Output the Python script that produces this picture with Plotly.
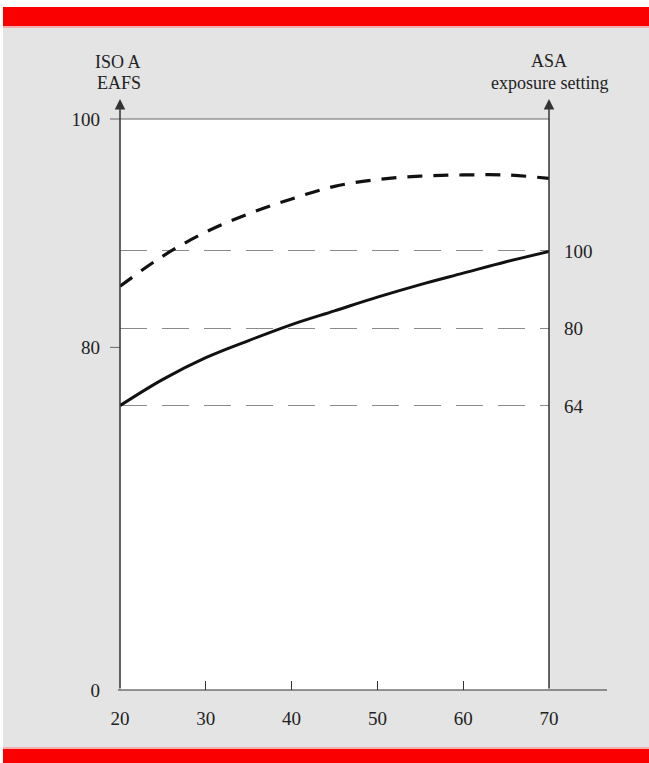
import plotly.graph_objects as go

# ---- data ----
age = [20, 25, 30, 35, 40, 45, 50, 55, 60, 65, 70]
eafs_solid = [74.9, 77.2, 79.1, 80.6, 82.0, 83.2, 84.4, 85.5, 86.5, 87.5, 88.4]
eafs_dashed = [85.35, 88.0, 90.1, 91.7, 93.0, 94.1, 94.7, 95.0, 95.1, 95.1, 94.8]
x_ticks = [20, 30, 40, 50, 60, 70]
left_tickvals = [50, 80, 100]
left_ticktext = ["0", "80", "100"]
asa_ticks = [64, 80, 100]

# ---- layout geometry (pixels) ----
FW, FH = 649, 763
L, R, T, B = 120, 549, 119, 690
W, H = R - L, B - T


def fx(px):
    return (px - L) / W


def fy(py):
    return (B - py) / H


FONT = "Liberation Serif"
FS = 19
TXT = "#222222"
AX = "#333333"

fig = go.Figure()
fig.add_trace(go.Scatter(x=age, y=eafs_dashed, mode="lines",
                         line=dict(color="#111111", width=3.2, dash="15px,11px", shape="spline"),
                         showlegend=False, hoverinfo="skip"))
fig.add_trace(go.Scatter(x=age, y=eafs_solid, mode="lines",
                         line=dict(color="#111111", width=3, shape="spline"),
                         showlegend=False, hoverinfo="skip"))
# invisible trace to activate the right axis
fig.add_trace(go.Scatter(x=[age[0]], y=[asa_ticks[0]], yaxis="y2", mode="markers",
                         marker=dict(opacity=0), showlegend=False, hoverinfo="skip"))

shapes = []
# white margins
shapes.append(dict(type="rect", xref="paper", yref="paper", x0=fx(-5), x1=fx(3), y0=fy(780), y1=fy(-5),
                   fillcolor="white", line_width=0, layer="above"))
shapes.append(dict(type="rect", xref="paper", yref="paper", x0=fx(-5), x1=fx(660), y0=fy(7), y1=fy(-5),
                   fillcolor="white", line_width=0, layer="above"))
# red bars
shapes.append(dict(type="rect", xref="paper", yref="paper", x0=fx(3), x1=fx(660), y0=fy(26), y1=fy(7),
                   fillcolor="#fa0000", line_width=0, layer="above"))
shapes.append(dict(type="rect", xref="paper", yref="paper", x0=fx(3), x1=fx(660), y0=fy(28), y1=fy(26),
                   fillcolor="#f4b0b0", line_width=0, layer="above"))
shapes.append(dict(type="rect", xref="paper", yref="paper", x0=fx(3), x1=fx(660), y0=fy(780), y1=fy(749),
                   fillcolor="#fa0000", line_width=0, layer="above"))
shapes.append(dict(type="rect", xref="paper", yref="paper", x0=fx(3), x1=fx(660), y0=fy(749), y1=fy(747),
                   fillcolor="#f4b0b0", line_width=0, layer="above"))
# x axis line extended
shapes.append(dict(type="line", xref="paper", yref="paper", x0=fx(118), x1=fx(607), y0=0, y1=0,
                   line=dict(color=AX, width=1.2), layer="above"))
# top frame line
shapes.append(dict(type="line", xref="paper", yref="paper", x0=fx(110), x1=1, y0=1, y1=1,
                   line=dict(color="#666666", width=1.2), layer="above"))
# left tick at 80
shapes.append(dict(type="line", xref="paper", yref="y", x0=fx(110), x1=0, y0=80, y1=80,
                   line=dict(color="#666666", width=1), layer="above"))
fig.update_layout(shapes=shapes)

annotations = [
    # axis arrows
    dict(x=0, y=fy(99), xref="paper", yref="paper", text="", showarrow=True,
         ax=0, ay=B - 99, axref="pixel", ayref="pixel", arrowhead=2, arrowsize=1.4,
         arrowwidth=1.5, arrowcolor=AX, standoff=0),
    dict(x=1, y=fy(99), xref="paper", yref="paper", text="", showarrow=True,
         ax=0, ay=B - 99, axref="pixel", ayref="pixel", arrowhead=2, arrowsize=1.4,
         arrowwidth=1.5, arrowcolor=AX, standoff=0),
]
for txt, cx, cy, fs in [("ISO A", 118, 62, 18), ("EAFS", 119, 83, 18),
                        ("ASA", 549, 61, 18), ("exposure setting", 549, 83, 18)]:
    annotations.append(dict(x=fx(cx), y=fy(cy), xref="paper", yref="paper", text=txt, showarrow=False,
                            xanchor="center", yanchor="middle", borderpad=0,
                            font=dict(family=FONT, size=fs, color=TXT)))
fig.update_layout(annotations=annotations)

fig.update_layout(
    width=FW, height=FH,
    margin=dict(l=L, r=FW - R, t=T, b=FH - B, pad=0),
    paper_bgcolor="#e4e4e4", plot_bgcolor="white",
    font=dict(family=FONT, size=FS, color=TXT),
    xaxis=dict(range=[20, 70], tickvals=x_ticks, ticks="inside", ticklen=9, tickcolor=AX,
               tickwidth=1, showline=False, showgrid=False, zeroline=False,
               tickfont=dict(family=FONT, size=FS, color=TXT), ticklabelstandoff=15),
    yaxis=dict(range=[50, 100], tickvals=left_tickvals, ticktext=left_ticktext, ticks="",
               showline=False, showgrid=False, zeroline=False,
               tickfont=dict(family=FONT, size=FS, color=TXT), ticklabelstandoff=19),
    yaxis2=dict(type="log", overlaying="y", side="right", range=[1.451, 2.165],
                tickvals=asa_ticks, ticktext=[str(v) for v in asa_ticks], ticks="",
                showline=False, showgrid=True, gridcolor="#8a8a8a", gridwidth=1,
                griddash="27px,15px", zeroline=False,
                tickfont=dict(family=FONT, size=FS, color=TXT), ticklabelstandoff=14),
)

fig.write_html("out.html", config={"displayModeBar": False},
               post_script="document.body.style.margin='0px';document.body.style.overflow='hidden';")
